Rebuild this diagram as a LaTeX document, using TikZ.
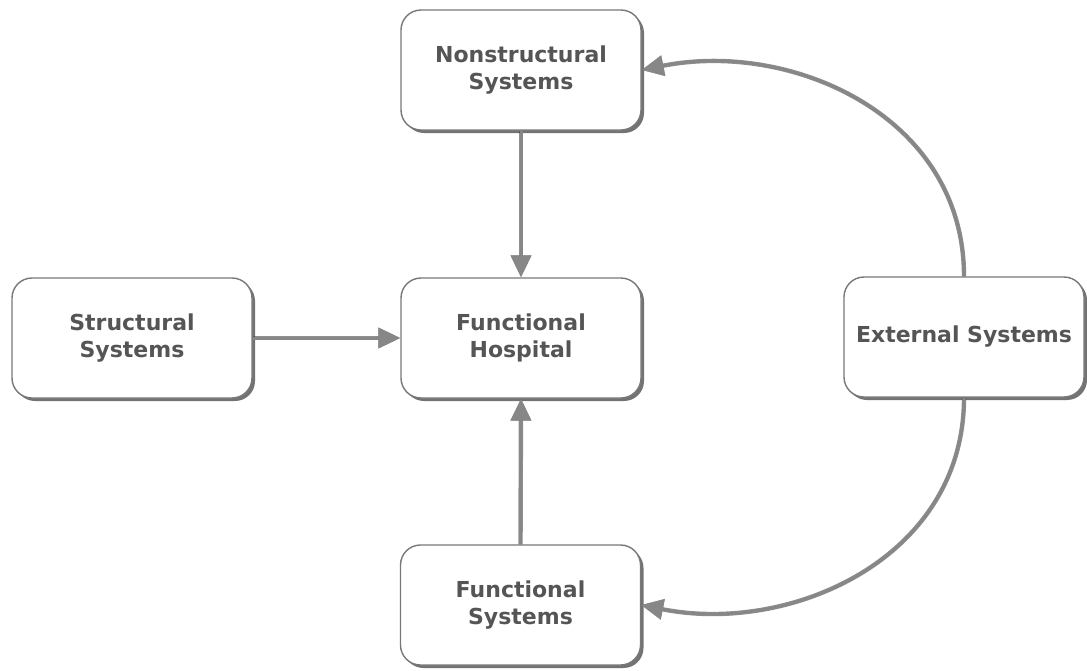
\documentclass[tikz,border=0pt]{standalone}
\usepackage{fontspec}
\setmainfont{DejaVu Sans}
\usetikzlibrary{arrows.meta,shadows}
\definecolor{boxline}{RGB}{120,120,120}
\definecolor{labeltext}{RGB}{85,85,85}
\definecolor{linkgray}{RGB}{135,135,135}
\definecolor{linkdark}{RGB}{70,70,70}
\tikzset{
  sysbox/.style={draw=boxline, line width=1.4pt, fill=white,
    rounded corners=20pt, minimum width=240pt, minimum height=120pt,
    align=center, text=labeltext,
    font=\fontsize{22}{27}\selectfont\bfseries,
    drop shadow={shadow xshift=3pt, shadow yshift=-3pt, fill=black, opacity=0.55}},
  link/.style={draw=linkgray, line width=3pt,
    preaction={draw=linkdark, line width=4.4pt, opacity=0.6},
    -{Triangle[length=22pt,width=20pt,fill=linkgray]}}
}
\begin{document}
\begin{tikzpicture}[x=1pt,y=-1pt]
  \useasboundingbox (0,0) rectangle (1087,670);
  \node[sysbox] (ns)  at (521,70)  {Nonstructural\\Systems};
  \node[sysbox] (fh)  at (521,338) {Functional\\Hospital};
  \node[sysbox] (ss)  at (132,338) {Structural\\Systems};
  \node[sysbox] (fs)  at (520.5,605) {Functional\\Systems};
  \node[sysbox] (ext) at (964,337) {External Systems};

  \draw[link] (ns.south) -- (fh.north);
  \draw[link] (ss.east) -- (fh.west);
  \draw[link] (fs.north) -- (fh.south);
  \draw[link] (ext.north) .. controls +(0,-160) and +(150,-30) .. (ns.east);
  \draw[link] (ext.south) .. controls +(0,160) and +(150,30) .. (fs.east);
\end{tikzpicture}
\end{document}
